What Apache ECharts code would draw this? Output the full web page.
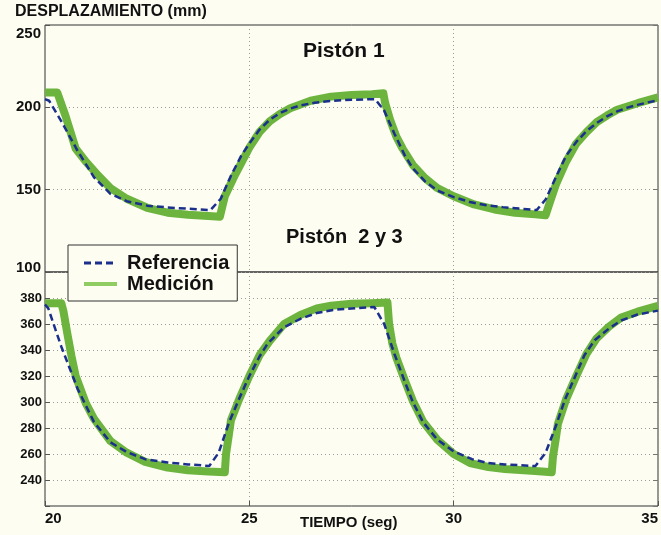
<!DOCTYPE html>
<html><head><meta charset="utf-8">
<script src="https://cdn.jsdelivr.net/npm/echarts@6/dist/echarts.min.js"></script>
<style>html,body{margin:0;padding:0;background:#fdfdf2;}#c{width:661px;height:535px;}</style>
</head><body><div id="c"></div>
<script>
// ---- Data ----
const xTicks = [20, 25, 30, 35];
const topTicks = [100, 150, 200, 250];
const bottomTicks = [240, 260, 280, 300, 320, 340, 360, 380];

// Pistón 1 – Referencia
const refTime1 = [20.0,20.1,20.4,20.8,21.2,21.6,22.0,22.5,23.0,23.5,24.05,24.3,24.55,24.8,25.0,25.25,25.5,25.75,26.0,26.25,26.6,27.0,27.5,28.08,28.3,28.55,28.8,29.0,29.3,29.6,30.0,30.4,30.8,31.2,31.6,32.03,32.25,32.5,32.75,33.0,33.25,33.5,33.75,34.0,34.25,34.5,34.75,35.0];
const ref1     = [205,204,191.5,173.5,157.5,147.5,143,140.3,139.2,138.4,137.6,144.5,158.5,170.5,178,186.5,192.5,196.5,199.2,201.2,202.8,203.9,204.6,205,198,184,171,163,155,149.5,145.5,142.5,140.5,139.4,138.5,137.6,144,157.5,170.5,179,185.5,190.5,194.5,197.5,199.8,201.5,203,204.2];
// Pistón 1 – Medición
const measTime1 = [20.0,20.3,20.5,20.75,21.0,21.25,21.6,22.0,22.5,23.0,23.5,24.0,24.28,24.4,24.65,25.0,25.25,25.5,25.75,26.0,26.5,27.0,27.5,28.0,28.28,28.32,28.45,28.6,28.75,29.0,29.3,29.6,30.0,30.5,31.0,31.5,32.0,32.25,32.35,32.5,32.75,33.0,33.25,33.5,33.75,34.0,34.5,35.0];
const meas1     = [209,209,195,175,167,160,151,144.5,139,136,134.8,134,133.6,146,159,175.5,185,191.5,196,199.5,204,206.5,207.5,208,208.5,203,192,182,175,165,157,151,146,141,138,136,135,134.5,142,153,167,178,185,191,195,198.5,202.5,206];

// Pistón 2 y 3 – Referencia
const refTime2 = [20.0,20.08,20.4,20.8,21.2,21.6,22.0,22.45,23.0,23.5,24.02,24.25,24.5,24.75,25.0,25.25,25.45,25.85,26.25,26.65,27.05,27.5,28.06,28.3,28.55,28.8,29.0,29.25,29.6,30.0,30.45,30.85,31.25,32.0,32.25,32.5,32.72,32.97,33.2,33.45,33.8,34.1,34.5,35.0];
const ref2     = [375,372,342.5,310,284.5,269,261.5,256,253.5,252,250.8,261,284,302.5,320,335,345,357.5,364,368.5,370.8,372,373,360,337,316,300,284.5,271,262,256,253,252,250.7,261,281.5,301.5,319.5,336,347.5,356.5,362.7,367.3,370.3];
// Pistón 2 y 3 – Medición
const measTime2 = [20.0,20.4,20.45,20.55,20.65,20.75,21.0,21.2,21.6,22.0,22.45,23.0,23.5,24.0,24.4,24.43,24.5,24.55,24.75,25.0,25.25,25.5,25.85,26.25,26.65,27.0,27.5,28.0,28.38,28.42,28.5,28.6,28.8,29.0,29.25,29.6,30.0,30.4,30.85,31.25,32.0,32.4,32.43,32.5,32.55,32.75,33.0,33.25,33.5,33.8,34.1,34.5,35.0];
const meas2     = [376,376,370,352,335,320,299,287,270,261,254,249.5,247.5,246.5,246,260,275,286,302,320,336,347,360,367,372,374,375.5,376,376.5,360,345,334,317,301,285,271,260,253,250,248.5,247,246,258,272,283,302,320,337,349,358,365,369.5,374];

const zip = (t, v) => t.map((x, i) => [x, v[i]]);

const GREEN = '#6cb43e';
const LEGEND_GREEN = '#8fcd62';
const BLUE = '#1b2f8c';
const FONT = 'Liberation Sans, Arial, sans-serif';

const chart = echarts.init(document.getElementById('c'), null, {renderer: 'canvas'});

const gridLine = {show: true, lineStyle: {color: '#9a9a9a', type: [1, 3], width: 1}};

function xAxisCfg(idx, showLabels) {
  return {
    type: 'value', gridIndex: idx, min: 20, max: 35, interval: 5,
    axisLine: {show: false},
    axisTick: {show: showLabels, inside: true, length: 5, lineStyle: {color: '#555'}},
    splitLine: gridLine,
    axisLabel: {
      show: showLabels, margin: 5, color: '#111', fontSize: 15, fontWeight: 'bold', fontFamily: FONT,
      alignMinLabel: 'left', alignMaxLabel: 'right',
      formatter: v => xTicks.includes(v) ? String(v) : ''
    }
  };
}

const option = {
  backgroundColor: '#fdfdf2',
  animation: false,
  grid: [
    {left: 45, top: 25, width: 613, height: 247, show: true, borderColor: '#333', borderWidth: 1, backgroundColor: 'transparent'},
    {left: 45, top: 272, width: 613, height: 234, show: true, borderColor: '#333', borderWidth: 1, backgroundColor: 'transparent'}
  ],
  xAxis: [xAxisCfg(0, false), xAxisCfg(1, true)],
  yAxis: [
    {
      type: 'value', gridIndex: 0, min: 100, max: 250, interval: 50,
      axisLine: {show: false},
      axisTick: {show: true, inside: true, length: 5, lineStyle: {color: '#555'}},
      splitLine: gridLine,
      axisLabel: {
        margin: 4, color: '#111', fontSize: 15, fontWeight: 'bold', fontFamily: FONT,
        formatter: v => {
          if (!topTicks.includes(v)) return '';
          if (v === 100) return '{lo|' + v + '}';
          if (v === 250) return '{hi|' + v + '}';
          return String(v);
        },
        rich: {
          lo: {fontSize: 15, fontWeight: 'bold', fontFamily: FONT, color: '#111', padding: [0, 0, 9, 0]},
          hi: {fontSize: 15, fontWeight: 'bold', fontFamily: FONT, color: '#111', padding: [18, 0, 0, 0]}
        }
      }
    },
    {
      type: 'value', gridIndex: 1, min: 220, max: 400, interval: 20,
      axisLine: {show: false},
      axisTick: {show: true, inside: true, length: 5, lineStyle: {color: '#555'}},
      splitLine: gridLine,
      axisLabel: {
        margin: 3, color: '#111', fontSize: 13, fontWeight: 'bold', fontFamily: FONT,
        formatter: v => bottomTicks.includes(v) ? String(v) : ''
      }
    },
    {
      type: 'value', gridIndex: 0, min: 100, max: 250, interval: 50, position: 'right',
      axisLine: {show: false}, splitLine: {show: false}, axisLabel: {show: false},
      axisTick: {show: true, inside: true, length: 5, lineStyle: {color: '#777'}}
    },
    {
      type: 'value', gridIndex: 1, min: 220, max: 400, interval: 20, position: 'right',
      axisLine: {show: false}, splitLine: {show: false}, axisLabel: {show: false},
      axisTick: {show: true, inside: true, length: 5, lineStyle: {color: '#777'}}
    }
  ],
  legend: {
    orient: 'vertical', left: 68, top: 245,
    data: [
      {name: 'Referencia', lineStyle: {color: BLUE, width: 3, type: [7, 4]}},
      {name: 'Medición', lineStyle: {color: LEGEND_GREEN, width: 4, type: 'solid'}}
    ],
    itemStyle: {opacity: 0},
    backgroundColor: '#fdfdf2', borderColor: '#333', borderWidth: 1,
    padding: [8, 8, 7, 14], itemGap: 1, itemWidth: 33, itemHeight: 14,
    textStyle: {fontSize: 20, fontWeight: 'bold', fontFamily: FONT, color: '#111', padding: [0, 0, 0, 5]},
    z: 10
  },
  series: [
    {name: 'Medición', type: 'line', xAxisIndex: 0, yAxisIndex: 0, data: zip(measTime1, meas1), showSymbol: false, symbol: 'none',
     lineStyle: {color: GREEN, width: 8, join: 'round'}, itemStyle: {color: GREEN}, z: 2},
    {name: 'Referencia', type: 'line', xAxisIndex: 0, yAxisIndex: 0, data: zip(refTime1, ref1), showSymbol: false, symbol: 'none',
     lineStyle: {color: BLUE, width: 2.5, type: [7, 4]}, itemStyle: {color: BLUE}, z: 3},
    {name: 'Medición', type: 'line', xAxisIndex: 1, yAxisIndex: 1, data: zip(measTime2, meas2), showSymbol: false, symbol: 'none',
     lineStyle: {color: GREEN, width: 8, join: 'round'}, itemStyle: {color: GREEN}, z: 2},
    {name: 'Referencia', type: 'line', xAxisIndex: 1, yAxisIndex: 1, data: zip(refTime2, ref2), showSymbol: false, symbol: 'none',
     lineStyle: {color: BLUE, width: 2.5, type: [7, 4]}, itemStyle: {color: BLUE}, z: 3}
  ],
  graphic: [
    {type: 'text', left: 15, top: 4, style: {text: 'DESPLAZAMIENTO (mm)', font: 'bold 16px ' + FONT, fill: '#111'}},
    {type: 'text', left: 303, top: 41, style: {text: 'Pistón 1', font: 'bold 21px ' + FONT, fill: '#111'}},
    {type: 'text', left: 286, top: 227, style: {text: 'Pistón  2 y 3', font: 'bold 20px ' + FONT, fill: '#111'}},
    {type: 'text', left: 300, top: 515, style: {text: 'TIEMPO (seg)', font: 'bold 15px ' + FONT, fill: '#111'}}
  ]
};
chart.setOption(option);
</script>
</body></html>
